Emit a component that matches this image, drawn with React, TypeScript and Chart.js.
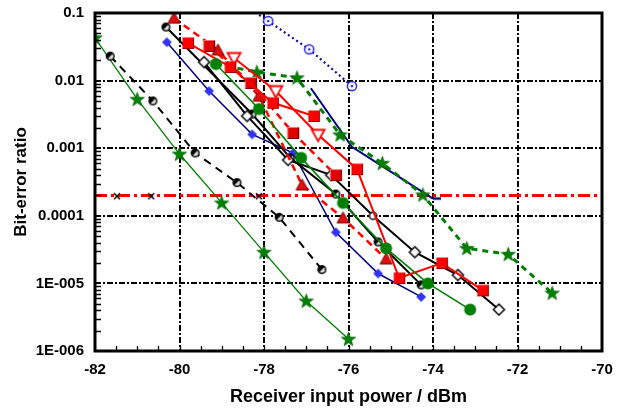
import React, { useEffect, useRef } from "react";
import { Chart, registerables } from "chart.js";

Chart.register(...registerables);

// ---------- data ----------
const xTickMin = -82;
const xTickMax = -70;
const xTickStep = 2;
const yTickValues = [1e-6, 1e-5, 1e-4, 1e-3, 1e-2, 1e-1];
const yTickLabels = ["1E-006", "1E-005", "0.0001", "0.001", "0.01", "0.1"];
const xTitle = "Receiver input power / dBm";
const yTitle = "Bit-error ratio";

const greenThinX = [-82, -81, -80, -79, -78, -77, -76];
const greenThinY = [0.043, 0.0053, 0.00082, 0.000155, 2.9e-5, 5.5e-6, 1.5e-6];

const blackDashX = [-81.64, -80.63, -79.63, -78.64, -77.64, -76.63];
const blackDashY = [0.023, 0.005, 0.00085, 0.00031, 9.5e-5, 1.6e-5];

const crossX = [-81.48, -80.67, -78.12];
const crossY = [1.95e-4, 1.95e-4, 1.95e-4];

const blueDiamondX = [-80.3, -79.3, -78.28, -77.31, -76.3, -75.3, -74.28];
const blueDiamondY = [0.037, 0.007, 0.0016, 0.00085, 5.7e-5, 1.4e-5, 6.3e-6];

const navyDotX = [-79.0, -77.9, -76.93, -75.92];
const navyDotY = [0.22, 0.076, 0.029, 0.0083];

const navyLineX = [-76.89, -75.92, -74.0];
const navyLineY = [0.0077, 0.00105, 0.00018];

const diamondX = [-79.42, -78.4, -77.43, -76.41, -75.42, -74.43, -73.41, -72.44];
const diamondY = [0.0188, 0.003, 0.00067, 0.0004, 0.0001, 2.9e-5, 1.33e-5, 4.1e-6];

const blackCircleX = [-80.32, -78.28, -77.38, -76.3, -75.3, -74.28];
const blackCircleY = [0.062, 0.0032, 0.00072, 0.00021, 4.1e-5, 9.5e-6];

const redSquareX = [-79.8, -78.8, -77.79, -76.82];
const redSquareY = [0.036, 0.0159, 0.0047, 0.003];

const redTriDownX = [-78.71, -77.72, -76.72, -75.8, -74.8, -73.79, -72.82];
const redTriDownY = [0.0216, 0.007, 0.00158, 0.00049, 1.2e-5, 2.0e-5, 7.9e-6];

const darkSquareX = [-79.3, -78.31, -77.31, -76.3];
const darkSquareY = [0.0325, 0.0092, 0.00168, 0.0004];

const redTriX = [-80.13, -79.09, -78.12, -77.1, -76.13, -75.11];
const redTriY = [0.084, 0.0284, 0.0059, 0.000286, 9.3e-5, 2.3e-5];

const greenCircleX = [-79.14, -78.12, -77.12, -76.13, -75.11, -74.12, -73.12];
const greenCircleY = [0.0176, 0.0038, 0.00072, 0.000155, 3.3e-5, 1.0e-5, 4.1e-6];

const greenDashX = [-79.14, -78.17, -77.22, -76.2, -75.2, -74.24, -73.2, -72.22, -71.18];
const greenDashY = [0.0176, 0.0134, 0.011, 0.00158, 0.0006, 0.000204, 3.3e-5, 2.7e-5, 7.2e-6];

const thresholdX = [-82, -70];
const thresholdY = [2e-4, 2e-4];

const FONT = "'Liberation Sans', Arial, sans-serif";

function pts(xs: number[], ys: number[]) {
  return xs.map((x, i) => ({ x, y: ys[i] }));
}

function mk(w: number, h: number, draw: (ctx: CanvasRenderingContext2D, cx: number, cy: number) => void) {
  const c = document.createElement("canvas");
  c.width = w;
  c.height = h;
  const ctx = c.getContext("2d")!;
  draw(ctx, w / 2, h / 2);
  return c;
}

function makeMarkers() {
  const star = mk(17, 17, (ctx, cx, cy) => {
    ctx.beginPath();
    for (let i = 0; i < 10; i++) {
      const a = -Math.PI / 2 + (i * Math.PI) / 5;
      const r = i % 2 ? 3 : 7.5;
      const px = cx + r * Math.cos(a);
      const py = cy + 0.5 + r * Math.sin(a);
      if (i === 0) ctx.moveTo(px, py);
      else ctx.lineTo(px, py);
    }
    ctx.closePath();
    ctx.fillStyle = "#008000";
    ctx.fill();
    ctx.strokeStyle = "#006400";
    ctx.lineWidth = 0.7;
    ctx.stroke();
  });
  const halfCircle = mk(11, 11, (ctx, cx, cy) => {
    ctx.beginPath();
    ctx.arc(cx, cy, 3.8, 0, Math.PI * 2);
    ctx.fillStyle = "#ddd";
    ctx.fill();
    ctx.beginPath();
    ctx.arc(cx, cy, 3.8, Math.PI * 0.75, Math.PI * 1.75);
    ctx.closePath();
    ctx.fillStyle = "#000";
    ctx.fill();
    ctx.beginPath();
    ctx.arc(cx, cy, 3.8, 0, Math.PI * 2);
    ctx.strokeStyle = "#000";
    ctx.lineWidth = 1.4;
    ctx.stroke();
  });
  const openCircle = mk(11, 11, (ctx, cx, cy) => {
    ctx.beginPath();
    ctx.arc(cx, cy, 3.6, 0, Math.PI * 2);
    ctx.fillStyle = "#fff";
    ctx.fill();
    ctx.strokeStyle = "#000";
    ctx.lineWidth = 1.5;
    ctx.stroke();
  });
  const openDiamond = mk(15, 15, (ctx, cx, cy) => {
    ctx.beginPath();
    ctx.moveTo(cx, cy - 5.5);
    ctx.lineTo(cx + 5.5, cy);
    ctx.lineTo(cx, cy + 5.5);
    ctx.lineTo(cx - 5.5, cy);
    ctx.closePath();
    ctx.fillStyle = "#fff";
    ctx.fill();
    ctx.strokeStyle = "#000";
    ctx.lineWidth = 1.5;
    ctx.stroke();
  });
  const blueDiamond = mk(12, 12, (ctx, cx, cy) => {
    ctx.beginPath();
    ctx.moveTo(cx, cy - 4.5);
    ctx.lineTo(cx + 4.5, cy);
    ctx.lineTo(cx, cy + 4.5);
    ctx.lineTo(cx - 4.5, cy);
    ctx.closePath();
    ctx.fillStyle = "#3333ff";
    ctx.fill();
    ctx.strokeStyle = "#1a1acc";
    ctx.lineWidth = 0.6;
    ctx.stroke();
  });
  const dotCircle = mk(14, 14, (ctx, cx, cy) => {
    ctx.beginPath();
    ctx.arc(cx, cy, 4.6, 0, Math.PI * 2);
    ctx.fillStyle = "#fff";
    ctx.fill();
    ctx.strokeStyle = "#2828e0";
    ctx.lineWidth = 1.5;
    ctx.stroke();
    ctx.beginPath();
    ctx.arc(cx, cy, 1.3, 0, Math.PI * 2);
    ctx.fillStyle = "#2828e0";
    ctx.fill();
  });
  const redSquare = mk(14, 14, (ctx, cx, cy) => {
    ctx.fillStyle = "#ff0000";
    ctx.fillRect(cx - 5.5, cy - 5.5, 11, 11);
    ctx.strokeStyle = "#a00000";
    ctx.lineWidth = 1.2;
    ctx.beginPath();
    ctx.moveTo(cx + 5.5, cy - 5.5);
    ctx.lineTo(cx + 5.5, cy + 5.5);
    ctx.lineTo(cx - 5.5, cy + 5.5);
    ctx.stroke();
  });
  const darkSquare = mk(14, 14, (ctx, cx, cy) => {
    ctx.fillStyle = "#e00000";
    ctx.fillRect(cx - 5.5, cy - 5.5, 11, 11);
    ctx.strokeStyle = "#ff7070";
    ctx.lineWidth = 1.2;
    ctx.beginPath();
    ctx.moveTo(cx - 5.5, cy + 5.5);
    ctx.lineTo(cx - 5.5, cy - 5.5);
    ctx.lineTo(cx + 5.5, cy - 5.5);
    ctx.stroke();
    ctx.strokeStyle = "#700000";
    ctx.beginPath();
    ctx.moveTo(cx + 5.5, cy - 5.5);
    ctx.lineTo(cx + 5.5, cy + 5.5);
    ctx.lineTo(cx - 5.5, cy + 5.5);
    ctx.stroke();
  });
  const redTri = mk(15, 15, (ctx, cx, cy) => {
    ctx.beginPath();
    ctx.moveTo(cx, cy - 6);
    ctx.lineTo(cx + 6, cy + 5);
    ctx.lineTo(cx - 6, cy + 5);
    ctx.closePath();
    ctx.fillStyle = "#dd1010";
    ctx.fill();
    ctx.strokeStyle = "#800000";
    ctx.lineWidth = 1;
    ctx.stroke();
  });
  const triDown = mk(17, 17, (ctx, cx, cy) => {
    ctx.beginPath();
    ctx.moveTo(cx - 6.5, cy - 5);
    ctx.lineTo(cx + 6.5, cy - 5);
    ctx.lineTo(cx, cy + 6.5);
    ctx.closePath();
    ctx.fillStyle = "#fff";
    ctx.fill();
    ctx.strokeStyle = "#ff0000";
    ctx.lineWidth = 1.8;
    ctx.stroke();
  });
  const greenCircle = mk(15, 15, (ctx, cx, cy) => {
    ctx.beginPath();
    ctx.arc(cx, cy, 6, 0, Math.PI * 2);
    ctx.fillStyle = "#008000";
    ctx.fill();
  });
  const cross = mk(10, 10, (ctx, cx, cy) => {
    ctx.strokeStyle = "#000";
    ctx.lineWidth = 1.5;
    ctx.beginPath();
    ctx.moveTo(cx - 3, cy - 3);
    ctx.lineTo(cx + 3, cy + 3);
    ctx.moveTo(cx + 3, cy - 3);
    ctx.lineTo(cx - 3, cy + 3);
    ctx.stroke();
  });
  const navyDash = mk(20, 6, (ctx, cx, cy) => {
    ctx.strokeStyle = "#000080";
    ctx.lineWidth = 2.5;
    ctx.beginPath();
    ctx.moveTo(cx, cy);
    ctx.lineTo(cx + 8, cy);
    ctx.stroke();
  });
  return { star, halfCircle, openCircle, openDiamond, blueDiamond, dotCircle, redSquare, darkSquare, redTri, triDown, greenCircle, cross, navyDash };
}

const frame = {
  id: "frame",
  afterDraw(chart: any) {
    const { ctx, chartArea } = chart;
    const { left, right, top, bottom } = chartArea;
    const xs = chart.scales.x;
    const ys = chart.scales.y;
    ctx.save();
    ctx.strokeStyle = "#000";
    ctx.lineWidth = 1.3;
    ctx.beginPath();
    for (let e = -6; e < -1; e++) {
      for (let k = 2; k <= 9; k++) {
        const py = Math.round(ys.getPixelForValue(k * Math.pow(10, e))) + 0.5;
        ctx.moveTo(left, py);
        ctx.lineTo(left + 6, py);
      }
    }
    for (let v = xTickMin + 0.5; v < xTickMax; v += 0.5) {
      const px = Math.round(xs.getPixelForValue(v)) + 0.5;
      ctx.moveTo(px, bottom);
      ctx.lineTo(px, bottom - 5);
    }
    ctx.stroke();
    ctx.lineWidth = 3;
    ctx.strokeRect(left, top, right - left, bottom - top);
    ctx.restore();
  },
};

export default function App() {
  const ref = useRef<HTMLCanvasElement | null>(null);
  useEffect(() => {
    document.body.style.margin = "0";
    const m = makeMarkers();
    const base = { showLine: true, fill: false, pointRadius: 5, pointHoverRadius: 5, tension: 0 };
    const datasets: any[] = [
      { ...base, data: pts(greenCircleX, greenCircleY), borderColor: "#008000", borderWidth: 1.6, pointStyle: m.greenCircle },
      { ...base, data: pts(redSquareX, redSquareY), borderColor: "#ff0000", borderWidth: 2, pointStyle: m.redSquare },
      {
        ...base,
        data: pts(redTriDownX, redTriDownY),
        borderColor: "#ff0000",
        borderWidth: 2,
        pointStyle: redTriDownX.map((_, i) => (i < 3 ? m.triDown : m.redSquare)),
      },
      { ...base, data: pts(darkSquareX, darkSquareY), borderColor: "#ff0000", borderWidth: 2.5, borderDash: [7, 5], pointStyle: m.darkSquare },
      { ...base, data: pts(redTriX, redTriY), borderColor: "#ff0000", borderWidth: 2.5, borderDash: [7, 5], pointStyle: m.redTri },
      {
        ...base,
        data: pts(diamondX, diamondY),
        borderColor: "#000",
        borderWidth: 2,
        pointStyle: diamondX.map((_, i) => (i === 4 ? m.openCircle : m.openDiamond)),
      },
      { ...base, data: pts(blackCircleX, blackCircleY), borderColor: "#000", borderWidth: 2, pointStyle: m.halfCircle },
      { ...base, data: pts(blueDiamondX, blueDiamondY), borderColor: "#000080", borderWidth: 1.5, pointStyle: m.blueDiamond },
      {
        ...base,
        data: pts(greenDashX, greenDashY),
        borderColor: "#008000",
        borderWidth: 3,
        borderDash: [6, 5],
        pointStyle: m.star,
        pointRadius: greenDashX.map((_, i) => (i === 0 ? 0 : 5)),
      },
      { ...base, data: pts(navyDotX, navyDotY), borderColor: "#1010a0", borderWidth: 2.2, borderDash: [2, 3], pointStyle: m.dotCircle },
      {
        ...base,
        data: pts(navyLineX, navyLineY),
        borderColor: "#000080",
        borderWidth: 2,
        pointStyle: m.navyDash,
        pointRadius: navyLineX.map((_, i) => (i === navyLineX.length - 1 ? 5 : 0)),
      },
      { ...base, data: pts(blackDashX, blackDashY), borderColor: "#000", borderWidth: 2, borderDash: [8, 6], pointStyle: m.halfCircle },
      { ...base, showLine: false, data: pts(crossX, crossY), pointStyle: m.cross },
      { ...base, data: pts(greenThinX, greenThinY), borderColor: "#008000", borderWidth: 1.3, pointStyle: m.star },
      { ...base, data: pts(thresholdX, thresholdY), borderColor: "#ff0000", borderWidth: 3, borderDash: [12, 4, 3, 4], pointRadius: 0 },
    ];

    const tickFont = { family: FONT, size: 15, weight: "bold" as const };
    const chart = new Chart(ref.current!, {
      type: "scatter",
      data: { datasets },
      plugins: [frame],
      options: {
        responsive: false,
        devicePixelRatio: 1,
        animation: false,
        events: [],
        layout: { padding: { top: 13, right: 22, left: 0, bottom: 0 } },
        plugins: { legend: { display: false }, tooltip: { enabled: false } },
        scales: {
          x: {
            type: "linear",
            min: xTickMin,
            max: xTickMax,
            ticks: { stepSize: xTickStep, color: "#000", font: tickFont, padding: 10, callback: (v: any) => String(v) },
            grid: { color: "#000", lineWidth: 2, drawTicks: false },
            border: { display: false, dash: [6, 2, 2, 2] },
            title: { display: true, text: xTitle, color: "#000", font: { family: FONT, size: 18, weight: "bold" }, padding: { top: 2, bottom: 1 } },
            afterFit: (s: any) => {
              s.height = 58;
              s.paddingLeft = 0;
              s.paddingRight = 0;
            },
          },
          y: {
            type: "logarithmic",
            min: 1e-6,
            max: 0.1,
            afterBuildTicks: (s: any) => {
              s.ticks = yTickValues.map((v) => ({ value: v }));
            },
            ticks: {
              color: "#000",
              font: tickFont,
              padding: 11,
              autoSkip: false,
              callback: (v: any) => {
                const i = yTickValues.findIndex((t) => Math.abs(Math.log10(t) - Math.log10(v)) < 1e-6);
                return i >= 0 ? yTickLabels[i] : "";
              },
            },
            grid: { color: "#000", lineWidth: 2, drawTicks: false },
            border: { display: false, dash: [6, 2, 2, 2] },
            title: { display: true, text: yTitle, color: "#000", font: { family: FONT, size: 17, weight: "bold" }, padding: { top: 11, bottom: 0 } },
            afterFit: (s: any) => {
              s.width = 95;
              s.paddingTop = 0;
              s.paddingBottom = 0;
            },
          },
        },
      },
    });
    return () => chart.destroy();
  }, []);

  return (
    <div style={{ position: "absolute", left: 0, top: 0, width: 624, height: 409, background: "#fff" }}>
      <canvas ref={ref} width={624} height={409} />
    </div>
  );
}
